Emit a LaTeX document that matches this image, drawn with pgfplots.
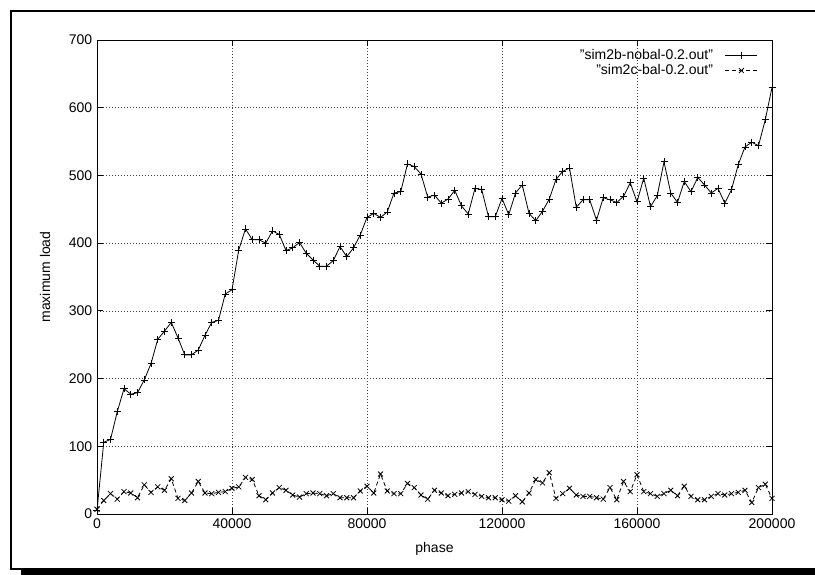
\documentclass[border=0pt]{standalone}
\usepackage{pgfplots}
\usepackage{pgfplotstable}
\pgfplotsset{compat=1.18}
\usepackage{fontspec}
\setmainfont{Liberation Sans}
\pgfplotstableread{
x s1 s2
0 5 7
2000 106 20
4000 110 30
6000 151 22
8000 185 33
10000 177 31
12000 179 24
14000 198 43
16000 222 32
18000 258 40
20000 270 35
22000 283 52
24000 260 23
26000 235 20
28000 235 31
30000 242 48
32000 264 31
34000 283 30
36000 286 32
38000 325 33
40000 331 38
42000 390 40
44000 421 54
46000 405 51
48000 405 27
50000 400 21
52000 418 31
54000 413 39
56000 389 35
58000 393 28
60000 401 25
62000 385 30
64000 375 31
66000 366 30
68000 366 27
70000 374 30
72000 395 24
74000 380 24
76000 393 24
78000 412 34
80000 438 41
82000 444 31
84000 438 59
86000 446 34
88000 474 30
90000 476 30
92000 517 45
94000 513 39
96000 502 28
98000 468 22
100000 471 35
102000 459 31
104000 465 27
106000 478 29
108000 455 31
110000 443 33
112000 481 29
114000 479 26
116000 439 24
118000 439 24
120000 466 21
122000 442 19
124000 474 27
126000 486 18
128000 444 31
130000 433 51
132000 447 46
134000 465 61
136000 494 23
138000 506 30
140000 511 38
142000 453 28
144000 464 26
146000 464 26
148000 434 24
150000 467 22
152000 464 39
154000 460 21
156000 469 48
158000 489 33
160000 461 58
162000 496 33
164000 454 30
166000 470 26
168000 520 30
170000 474 35
172000 460 27
174000 491 41
176000 476 26
178000 497 21
180000 486 21
182000 474 26
184000 481 30
186000 459 28
188000 479 30
190000 516 32
192000 542 35
194000 549 17
196000 544 39
198000 582 44
200000 630 23
}\datatable
\begin{document}
\fontsize{14pt}{16pt}\selectfont
\begin{tikzpicture}[x=1pt,y=1pt]
\useasboundingbox (0,0) rectangle (815,575);
\draw[line width=2pt] (830,564) -- (10.5,564) -- (10.5,6) -- (830,6);
\fill (21,0) rectangle (830,4.5);
\begin{axis}[
  at={(97pt,61pt)}, anchor=south west,
  width=675pt, height=474pt, scale only axis,
  xmin=0, xmax=200000, ymin=0, ymax=700,
  xtick={0,40000,80000,120000,160000,200000},
  ytick={0,100,200,300,400,500,600,700},
  scaled x ticks=false, scaled y ticks=false,
  /pgf/number format/fixed,
  /pgf/number format/precision=0,
  /pgf/number format/1000 sep={},
  /pgf/number format/assume math mode=true,
  tick align=inside, major tick length=6pt,
  tick style={black, line width=0.8pt},
  grid=major,
  major grid style={black!75, line width=0.7pt, dash pattern=on 0.8pt off 2.2pt},
  axis line style={line width=0.8pt},
  tick label style={font=\fontsize{14pt}{16pt}\selectfont},
  label style={font=\fontsize{14pt}{16pt}\selectfont},
  xlabel={phase}, ylabel={maximum load},
  x label style={at={(axis description cs:0.5,-0.074)}, anchor=center},
  y label style={at={(axis description cs:-0.077,0.5)}, anchor=center, rotate=0},
  legend style={draw=none, fill=none, at={(axis description cs:1,1)}, anchor=north east, xshift=-14pt, yshift=-7pt, font=\fontsize{14pt}{16pt}\selectfont, inner sep=0pt, row sep=-1pt,
    /tikz/every odd column/.append style={column sep=10pt}},
  legend cell align=right,
  legend plot pos=right,
  legend image code/.code={\draw[mark repeat=2,mark phase=2,#1] plot coordinates {(0pt,0pt) (16pt,0pt) (32pt,0pt)};},
]
\addplot[black, line width=0.8pt, mark=+, mark size=3.5pt, mark options={solid, line width=0.8pt}] table[x=x, y=s1] {\datatable};
\addlegendentry{"sim2b-nobal-0.2.out"}
\addplot[black, line width=0.8pt, dash pattern=on 4pt off 3pt, mark=x, mark size=3.5pt, mark options={solid, line width=0.8pt}] table[x=x, y=s2] {\datatable};
\addlegendentry{"sim2c-bal-0.2.out"}
\end{axis}
\end{tikzpicture}
\end{document}
